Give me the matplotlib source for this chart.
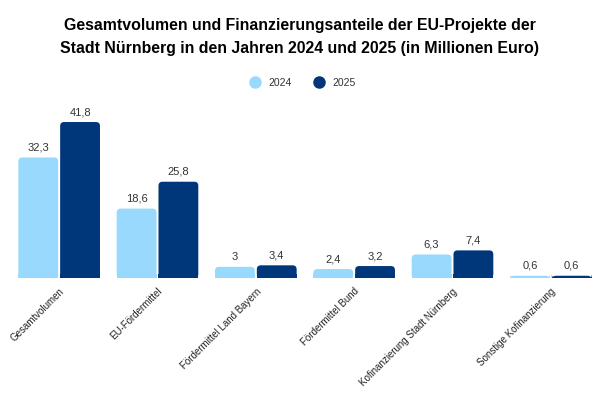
import matplotlib.pyplot as plt
from matplotlib.patches import FancyBboxPatch, Rectangle
from matplotlib.lines import Line2D
import numpy as np

plt.rcParams['font.family'] = ['Liberation Sans', 'DejaVu Sans']

categories = ['Gesamtvolumen', 'EU-Fördermittel', 'Fördermittel Land Bayern',
              'Fördermittel Bund', 'Kofinanzierung Stadt Nürnberg',
              'Sonstige Kofinanzierung']
werte_2024 = [32.3, 18.6, 3.0, 2.4, 6.3, 0.6]
werte_2025 = [41.8, 25.8, 3.4, 3.2, 7.4, 0.6]
labels_2024 = ['32,3', '18,6', '3', '2,4', '6,3', '0,6']
labels_2025 = ['41,8', '25,8', '3,4', '3,2', '7,4', '0,6']

hell = '#99d9fd'
dunkel = '#00367a'
textfarbe = '#333333'

fig = plt.figure(figsize=(6, 4), dpi=100)
ax = fig.add_axes([10/600, 1 - 278/400, 590/600, 178/400])

x = np.arange(len(categories))
w = 0.405
ymax = 47.7
ax.set_xlim(-0.5, len(categories) - 0.5)
ax.set_ylim(0, ymax)

# px -> data units for rounding the top corners
px_x = (len(categories)) / 590.0
px_y = ymax / 178.0
r_px = 4.0

def runde_balken(xpos, hoehe, farbe, text):
    left = xpos - w / 2
    r = r_px * px_x
    aspect = px_y / px_x
    p = FancyBboxPatch((left, 0), w, hoehe,
                       boxstyle='round,pad=0,rounding_size=%f' % r,
                       mutation_aspect=aspect, fc=farbe, ec='none')
    ax.add_patch(p)
    # untere Ecken eckig machen
    ax.add_patch(Rectangle((left, 0), w, min(hoehe, hoehe / 2 if hoehe < 2 * r_px * px_y else r_px * px_y),
                           fc=farbe, ec='none'))
    ax.text(xpos, hoehe + 1.3, text, ha='center', va='bottom',
            fontsize=8, color=textfarbe)

for i in range(len(categories)):
    runde_balken(x[i] - w / 2 - 0.01, werte_2024[i], hell, labels_2024[i])
    runde_balken(x[i] + w / 2 + 0.01, werte_2025[i], dunkel, labels_2025[i])

ax.set_xticks(x)
ax.set_xticklabels(categories, rotation=45, ha='right', rotation_mode='anchor',
                   fontsize=7, color='#222222')
ax.tick_params(axis='x', length=0, pad=6)
ax.set_yticks([])
for s in ax.spines.values():
    s.set_visible(False)

fig.text(0.5, 0.955, 'Gesamtvolumen und Finanzierungsanteile der EU-Projekte der\n'
         'Stadt Nürnberg in den Jahren 2024 und 2025 (in Millionen Euro)',
         ha='center', va='top', fontsize=11.4, fontweight='bold',
         linespacing=1.65, color='black')

handles = [Line2D([], [], marker='o', ls='none', ms=8, mfc=hell, mec=hell),
           Line2D([], [], marker='o', ls='none', ms=8, mfc=dunkel, mec=dunkel)]
fig.legend(handles, ['2024', '2025'], loc='center', bbox_to_anchor=(0.5, 1 - 83/400),
           ncol=2, frameon=False, fontsize=7.5, handletextpad=0.3,
           columnspacing=1.6, labelcolor=textfarbe)

fig.savefig('out.png', dpi=100)
